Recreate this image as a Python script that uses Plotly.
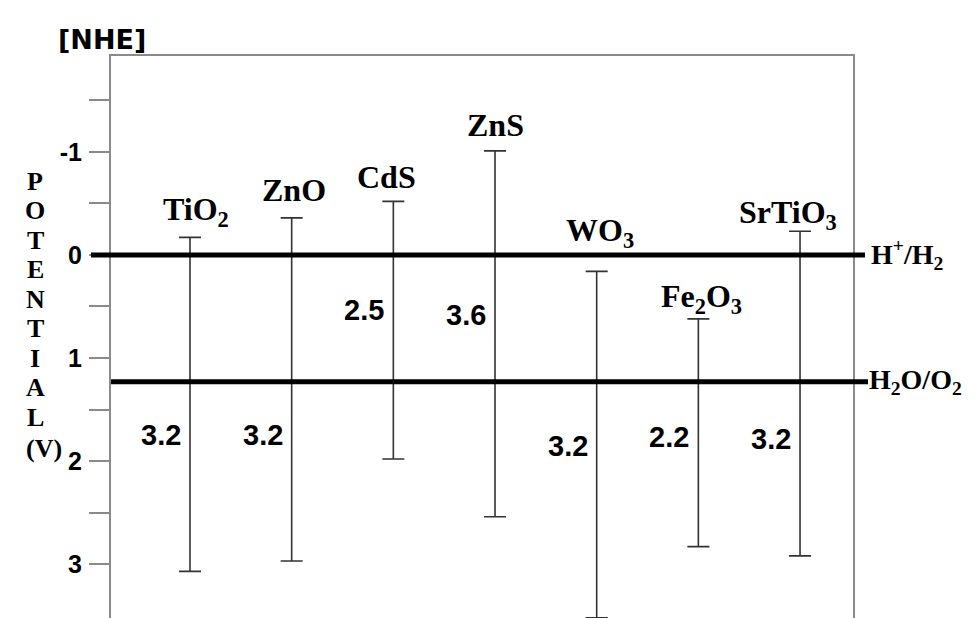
import plotly.graph_objects as go

# ---------------- data ----------------
materials = ["TiO2", "ZnO", "CdS", "ZnS", "WO3", "Fe2O3", "SrTiO3"]
material_labels = ["TiO<sub>2</sub>", "ZnO", "CdS", "ZnS", "WO<sub>3</sub>",
                   "Fe<sub>2</sub>O<sub>3</sub>", "SrTiO<sub>3</sub>"]
conduction_band = [-0.17, -0.36, -0.52, -1.01, 0.16, 0.62, -0.23]   # V vs NHE (top)
valence_band = [3.07, 2.97, 1.98, 2.54, 3.52, 2.83, 2.92]           # V vs NHE (bottom)
band_gap_text = ["3.2", "3.2", "2.5", "3.6", "3.2", "2.2", "3.2"]
band_gap_pos = [1.75, 1.75, 0.53, 0.58, 1.85, 1.77, 1.79]          # where gap text sits (V)

redox_levels = [0.0, 1.23]
redox_labels = ["H<sup>+</sup>/H<sub>2</sub>", "H<sub>2</sub>O/O<sub>2</sub>"]

tick_vals = [-1.5, -1.0, -0.5, 0.0, 0.5, 1.0, 1.5, 2.0, 2.5, 3.0]
tick_text = ["", "-1", "", "0", "", "1", "", "2", "", "3"]

axis_letters = ["P", "O", "T", "E", "N", "T", "I", "A", "L"]

# ---------------- styles ----------------
W, H = 977, 618
ML, MR, MT, MB = 103, 132, 48, 0
PW, PH = W - ML - MR, H - MT - MB
SERIF = "Liberation Serif"
SANS = "Liberation Sans"
GRAY = "#8a8a8a"

def px_x(px):
    return (px - ML) / PW

def px_y(py):
    return (H - MB - py) / PH

name_dx = [6, 2, -7, 0, 3, 3, -12]
name_dy = [26, 28, 24, 26, 39, 20, 17]

fig = go.Figure()

gap = [v - c for c, v in zip(conduction_band, valence_band)]
fig.add_trace(go.Scatter(
    x=materials, y=conduction_band, mode="markers",
    marker=dict(size=1, opacity=0),
    error_y=dict(type="data", symmetric=False, array=gap,
                 arrayminus=[0] * len(gap), width=11, thickness=1.6,
                 color="#333333"),
    hoverinfo="skip", showlegend=False,
))

shapes = []
shapes.append(dict(type="line", xref="paper", yref="y", x0=px_x(83), x1=px_x(857),
                   y0=redox_levels[0], y1=redox_levels[0],
                   line=dict(color="black", width=5)))
shapes.append(dict(type="line", xref="paper", yref="y", x0=0, x1=px_x(860),
                   y0=redox_levels[1], y1=redox_levels[1],
                   line=dict(color="black", width=5)))

annotations = []
for i, (m, lab, cb) in enumerate(zip(materials, material_labels, conduction_band)):
    annotations.append(dict(
        x=m, y=cb, xref="x", yref="y", text="<b>" + lab + "</b>",
        showarrow=False, xanchor="center", yanchor="middle",
        xshift=name_dx[i], yshift=name_dy[i],
        font=dict(family=SERIF, size=32, color="black")))
for m, t, yp in zip(materials, band_gap_text, band_gap_pos):
    annotations.append(dict(
        x=m, y=yp, xref="x", yref="y", text="<b>" + t + "</b>",
        showarrow=False, xanchor="right", yanchor="middle", xshift=-7,
        font=dict(family=SANS, size=29, color="black")))
annotations.append(dict(x=px_x(861), y=redox_levels[0], xref="paper", yref="y",
                        text="<b>" + redox_labels[0] + "</b>", showarrow=False,
                        xanchor="left", yanchor="middle",
                        font=dict(family=SERIF, size=28, color="black")))
annotations.append(dict(x=px_x(859), y=redox_levels[1], xref="paper", yref="y",
                        text="<b>" + redox_labels[1] + "</b>", showarrow=False,
                        xanchor="left", yanchor="middle",
                        font=dict(family=SERIF, size=28, color="black")))
annotations.append(dict(x=px_x(94), y=px_y(32), xref="paper", yref="paper",
                        text="[NHE]", showarrow=False, xanchor="center", yanchor="middle",
                        font=dict(family="DejaVu Sans", size=27, color="black",
                                  weight="bold")))
for i, ch in enumerate(axis_letters):
    annotations.append(dict(x=px_x(27), y=px_y(173 + 29.5 * i), xref="paper", yref="paper",
                            text="<b>" + ch + "</b>", showarrow=False,
                            xanchor="center", yanchor="middle",
                            font=dict(family=SERIF, size=26, color="black")))
annotations.append(dict(x=px_x(36), y=px_y(441), xref="paper", yref="paper",
                        text="<b>(V)</b>", showarrow=False,
                        xanchor="center", yanchor="middle",
                        font=dict(family=SERIF, size=26, color="black")))

fig.update_layout(
    width=W, height=H,
    margin=dict(l=ML, r=MR, t=MT, b=MB, pad=0),
    paper_bgcolor="white", plot_bgcolor="white",
    shapes=shapes, annotations=annotations,
    xaxis=dict(type="category", range=[-0.777, 6.521], side="top",
               showline=True, linecolor=GRAY, linewidth=2,
               showticklabels=False, ticks="", showgrid=False, zeroline=False,
               fixedrange=True),
    yaxis=dict(range=[3.60, -1.93], tickmode="array", tickvals=tick_vals,
               ticktext=tick_text, ticks="outside", ticklen=20, tickwidth=2,
               tickcolor=GRAY, showline=True, linecolor=GRAY, linewidth=2,
               mirror=True, showgrid=False, zeroline=False, ticklabelstandoff=2,
               tickfont=dict(family=SANS, size=25, color="black", weight="bold"),
               fixedrange=True),
)

fig.write_html("out.html")
